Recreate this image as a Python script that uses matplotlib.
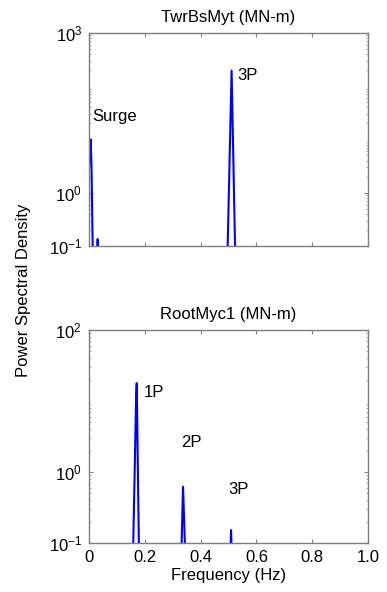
import numpy as np
import matplotlib
matplotlib.use('Agg')
import matplotlib.pyplot as plt
from matplotlib.ticker import LogLocator, LogFormatterSciNotation, NullFormatter

plt.rcParams['font.family'] = ['Liberation Sans', 'DejaVu Sans']
plt.rcParams['mathtext.fontset'] = 'custom'
plt.rcParams['mathtext.rm'] = 'Liberation Sans'
plt.rcParams['mathtext.it'] = 'Liberation Sans'

# tower base fore-aft moment spectrum
twr_freq = [0.0, 0.003, 0.006, 0.009, 0.016, 0.025, 0.029, 0.031, 0.033,
            0.04, 0.494, 0.511, 0.526, 1.0]
twr_psd = [3.0, 6.5, 10.0, 3.0, 0.01, 0.005, 0.06, 0.135, 0.06,
           0.005, 0.02, 196.0, 0.02, 0.005]

# blade root flapwise moment spectrum
root_freq = [0.0, 0.155, 0.169, 0.171, 0.181, 0.330, 0.337, 0.346,
             0.507, 0.509, 0.511, 1.0]
root_psd = [0.005, 0.02, 11.5, 17.8, 0.02, 0.05, 0.62, 0.05,
            0.08, 0.152, 0.08, 0.005]

top_labels = [('Surge', 0.011, 26.7), ('3P', 0.53, 157.0)]
bottom_labels = [('1P', 0.197, 13.0), ('2P', 0.33, 2.56), ('3P', 0.498, 0.558)]

fs = 12
edge = '#7f7f7f'


def style_axes(ax, ylim, ymajor):
    ax.set_yscale('log')
    ax.set_xlim(0, 1)
    ax.set_ylim(*ylim)
    ax.set_xticks([0, 0.2, 0.4, 0.6, 0.8, 1.0])
    ax.set_yticks(ymajor)
    ax.yaxis.set_major_formatter(LogFormatterSciNotation())
    ax.yaxis.set_minor_locator(LogLocator(subs=np.arange(2, 10)))
    ax.yaxis.set_minor_formatter(NullFormatter())
    ax.tick_params(which='both', direction='in', top=True, right=True,
                   color=edge, labelsize=fs, pad=5)
    ax.tick_params(which='major', length=3, width=0.8)
    ax.tick_params(which='minor', length=1.5, width=0.5)
    for s in ax.spines.values():
        s.set_color(edge)
        s.set_linewidth(1.0)


fig = plt.figure(figsize=(3.87, 5.92), dpi=100)
ax1 = fig.add_axes([0.23, 0.5845, 0.721, 0.36])
ax2 = fig.add_axes([0.23, 0.0828, 0.721, 0.36])

ax1.plot(twr_freq, twr_psd, color='#0000ff', lw=1.5)
style_axes(ax1, (0.1, 1000), [0.1, 1, 1000])
ax1.set_xticklabels([])
ax1.set_title('TwrBsMyt (MN-m)', fontsize=fs, pad=8)
for txt, x, y in top_labels:
    ax1.text(x, y, txt, fontsize=fs, ha='left', va='center')

ax2.plot(root_freq, root_psd, color='#0000ff', lw=1.5)
style_axes(ax2, (0.1, 100), [0.1, 1, 100])
ax2.set_xticklabels(['0', '0.2', '0.4', '0.6', '0.8', '1.0'])
ax2.set_title('RootMyc1 (MN-m)', fontsize=fs, pad=8)
ax2.set_xlabel('Frequency (Hz)', fontsize=fs, labelpad=2)
for txt, x, y in bottom_labels:
    ax2.text(x, y, txt, fontsize=fs, ha='left', va='center')

fig.text(0.06, 0.51, 'Power Spectral Density', rotation=90,
         fontsize=fs, ha='center', va='center')

fig.savefig('out.png', dpi=100)
